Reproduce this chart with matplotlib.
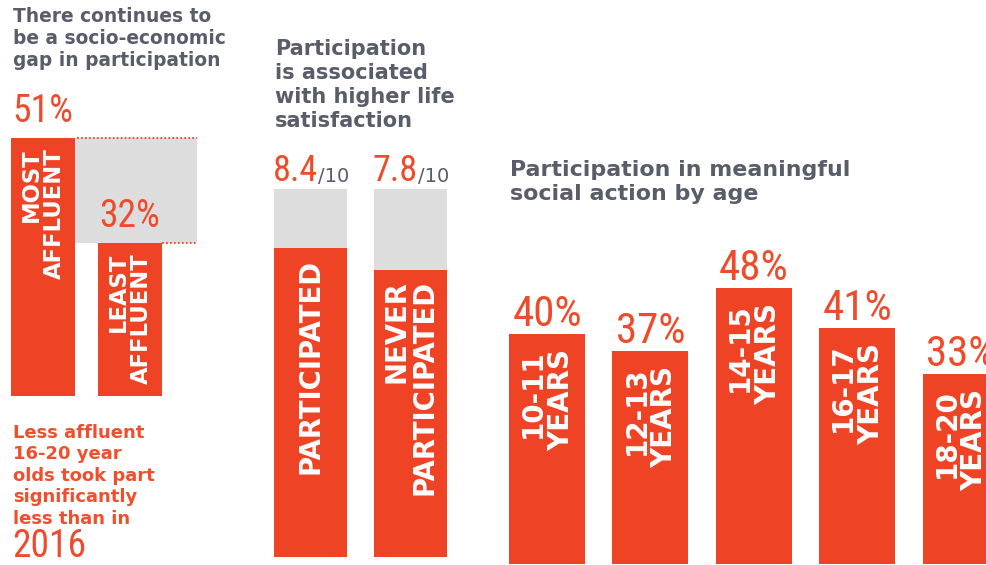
import numpy as np
import matplotlib
matplotlib.use('Agg')
import matplotlib.pyplot as plt

W, H = 987, 565

# chart values
affluence_labels = ['MOST\nAFFLUENT', 'LEAST\nAFFLUENT']
affluence_pct = [51, 32]

life_labels = ['PARTICIPATED', 'NEVER\nPARTICIPATED']
life_scores = [8.4, 7.8]
life_max = 10

age_labels = ['10-11\nYEARS', '12-13\nYEARS', '14-15\nYEARS', '16-17\nYEARS', '18-20\nYEARS']
age_pct = [40, 37, 48, 41, 33]

RED = '#ef4326'
NUM_RED = '#ef4b2b'
GREY_BOX = '#dddddd'
TITLE_GREY = '#595d69'
NOTE_RED = '#f04f2d'

NUM_FONT = ['Roboto Condensed', 'DejaVu Sans']
TXT_FONT = ['DejaVu Sans']


def px_axes(fig, left, top, right, bottom):
    """Axes placed by pixel box (top-left origin)."""
    ax = fig.add_axes([left / W, 1 - bottom / H, (right - left) / W, (bottom - top) / H])
    ax.axis('off')
    return ax


def ftext(fig, x, y, s, **kw):
    return fig.text(x / W, 1 - y / H, s, **kw)


def bar_labels(ax, xs, vals, labels, pads, size, spacing):
    for xi, v, lab, pad in zip(xs, vals, labels, pads):
        ax.annotate(lab, (xi, v), xytext=(0, -pad), textcoords='offset pixels',
                    rotation=90, ha='center', va='top', multialignment='right',
                    color='white', fontweight='bold', fontsize=size,
                    family=TXT_FONT, linespacing=spacing)


num_kw = dict(color=NUM_RED, family=NUM_FONT, fontstretch='condensed')

fig = plt.figure(figsize=(W / 100, H / 100), dpi=100)
fig.patch.set_facecolor('white')

# --- panel 1: socio-economic gap
ax1 = px_axes(fig, 0, 0, 215, 396)
x1 = np.arange(len(affluence_pct))
bw1 = 0.74
ax1.set_xlim(-0.497, 1.988)
ax1.set_ylim(4.31, 75.97)
gap_left = x1[0] + bw1 / 2
gap_right = 1.78
ax1.bar(gap_left, affluence_pct[0] - affluence_pct[1], width=gap_right - gap_left,
        bottom=affluence_pct[1], align='edge', color=GREY_BOX)
ax1.bar(x1, affluence_pct, width=bw1, color=RED)
ax1.hlines(affluence_pct[0], gap_left + 0.02, gap_right, colors=RED,
           linestyles=(0, (1, 1.2)), lw=1.3)
ax1.hlines(affluence_pct[1], x1[1] + bw1 / 2, gap_right, colors=RED,
           linestyles=(0, (1, 1.2)), lw=1.3)
for xi, v in zip(x1, affluence_pct):
    ax1.annotate(f'{v}%', (xi, v), xytext=(0, 16), textcoords='offset pixels',
                 ha='center', va='baseline', fontsize=27, **num_kw)
bar_labels(ax1, x1, affluence_pct, affluence_labels, [10, 10], 16.3, 1.0)

# --- panel 2: life satisfaction
ax2 = px_axes(fig, 250, 140, 490, 557)
x2 = np.arange(len(life_scores))
bw2 = 0.73
ax2.set_xlim(-0.605, 1.795)
ax2.set_ylim(0, 11.33)
ax2.bar(x2, [life_max] * len(x2), width=bw2, color=GREY_BOX)
ax2.bar(x2, life_scores, width=bw2, color=RED)
for xi, v in zip(x2, life_scores):
    t = ax2.annotate(f'{v}', (xi - bw2 / 2, life_max), xytext=(-1, 8),
                     textcoords='offset pixels', ha='left', va='baseline',
                     fontsize=26, **num_kw)
    ax2.annotate(f'/{life_max}', xy=(1, 0), xycoords=t, xytext=(0, 3),
                 textcoords='offset pixels', ha='left', va='bottom',
                 color=TITLE_GREY, fontsize=14, family=TXT_FONT)
bar_labels(ax2, x2, life_scores, life_labels, [11, 10], 19.8, 1.0)

# --- panel 3: participation by age
ax3 = px_axes(fig, 495, 200, 987, 564)
x3 = np.arange(len(age_pct))
ax3.set_xlim(-0.503, 4.255)
ax3.set_ylim(0, 63.3)
ax3.bar(x3, age_pct, width=0.735, color=RED)
for xi, v in zip(x3, age_pct):
    ax3.annotate(f'{v}%', (xi, v), xytext=(0, 8), textcoords='offset pixels',
                 ha='center', va='baseline', fontsize=31, annotation_clip=False, **num_kw)
bar_labels(ax3, x3, age_pct, age_labels, [15] * len(age_pct), 20, 1.0)

# --- titles and notes
title_kw = dict(va='top', ha='left', fontweight='bold', color=TITLE_GREY, family=TXT_FONT)
ftext(fig, 13, 7, 'There continues to\nbe a socio-economic\ngap in participation',
      fontsize=13.4, linespacing=1.2, **title_kw)
ftext(fig, 275, 39, 'Participation\nis associated\nwith higher life\nsatisfaction',
      fontsize=15, linespacing=1.26, **title_kw)
ftext(fig, 510, 160, 'Participation in meaningful\nsocial action by age',
      fontsize=15.9, linespacing=1.22, **title_kw)

ftext(fig, 13, 424, 'Less affluent\n16-20 year\nolds took part\nsignificantly\nless than in',
      va='top', ha='left', fontweight='bold', color=NOTE_RED, family=TXT_FONT,
      fontsize=13, linespacing=1.243)
ftext(fig, 12, 565, '2016', va='bottom', ha='left', fontsize=27, **num_kw)

fig.savefig('out.png', dpi=100)
